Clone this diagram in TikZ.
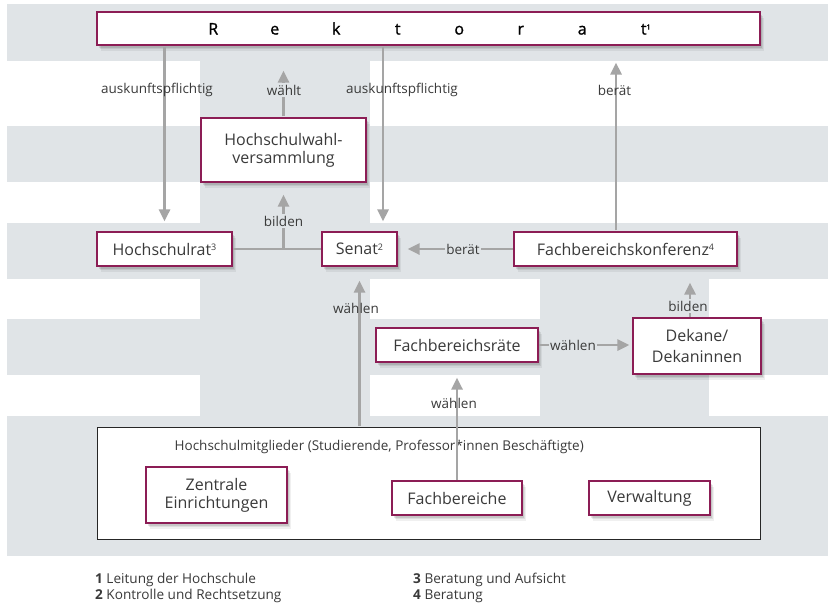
\documentclass[tikz,border=0pt]{standalone}
\usepackage{fontspec}
\setmainfont{Open Sans}
\newfontface\rekfont{Open Sans}[FakeBold=1.2]
\usetikzlibrary{arrows.meta,shadows,calc}
\definecolor{bg}{HTML}{E0E4E7}
\definecolor{frame}{HTML}{8C1D55}
\definecolor{arrowgray}{HTML}{A5A5A5}
\definecolor{txt}{HTML}{3A3A3A}
\newcommand{\supnum}[1]{\raisebox{4.5pt}{\fontsize{9}{10}\selectfont #1}}
\tikzset{
  softshadow/.style={
    general shadow={shadow xshift=3.5pt, shadow yshift=-5.5pt, fill=black, opacity=.06},
    general shadow={shadow xshift=2.5pt, shadow yshift=-4pt, fill=black, opacity=.08},
    general shadow={shadow xshift=1.5pt, shadow yshift=-2.5pt, fill=black, opacity=.10}},
  orgbox/.style={draw=frame, line width=1.1pt, fill=white, inner sep=0pt, align=center,
    text=txt, font=\fontsize{16}{18}\selectfont, softshadow},
  conn/.style={draw=arrowgray, line width=2.6pt},
  arr/.style={conn, -{Triangle[length=12pt,width=11pt]}},
  lbl/.style={text=txt, font=\fontsize{13.5}{16}\selectfont, inner sep=1.5pt},
  lblbg/.style={lbl, fill=bg},
  legend/.style={text=txt, font=\fontsize{13.6}{15}\selectfont, inner sep=0pt, anchor=west},
}
\begin{document}
\begin{tikzpicture}[x=1pt,y=-1pt]
\useasboundingbox (0,0) rectangle (828,608);
% background bands
\fill[white] (0,0) rectangle (828,608);
\fill[bg] (7,4) rectangle (828,61);
\fill[bg] (7,126) rectangle (828,182);
\fill[bg] (7,223) rectangle (828,279);
\fill[bg] (7,319) rectangle (828,375);
\fill[bg] (7,416) rectangle (828,556);
\fill[bg] (200,61) rectangle (370,416);
\fill[bg] (540,279) rectangle (709,416);
\node[draw=black!85, line width=0.8pt, fill=white, minimum width=663pt, minimum height=112pt, inner sep=0pt] (mitgl) at (428.5,483) {};

% boxes
\node[orgbox, minimum width=663pt, minimum height=33pt] (rek) at (428.5,28.5)
  {\color{black}\rekfont\fontsize{16}{18}\selectfont\makebox[61.5pt]{R}\makebox[61.5pt]{e}\makebox[61.5pt]{k}\makebox[61.5pt]{t}\makebox[61.5pt]{o}\makebox[61.5pt]{r}\makebox[61.5pt]{a}\makebox[61.5pt]{t\rlap{\raisebox{5pt}{\fontsize{7}{8}\selectfont 1}}}};
\node[orgbox, minimum width=165pt, minimum height=64pt] (hwv) at (283.5,150) {Hochschulwahl-\\versammlung};
\node[orgbox, minimum width=135pt, minimum height=34pt] (hr) at (164.5,249) {Hochschulrat\supnum{3}};
\node[orgbox, minimum width=75pt, minimum height=34pt] (senat) at (359.5,249) {Senat\supnum{2}};
\node[orgbox, minimum width=223pt, minimum height=34pt] (fbk) at (625.5,249) {Fachbereichskonferenz\supnum{4}};
\node[orgbox, minimum width=162pt, minimum height=34pt] (fbr) at (457,345) {Fachbereichsräte};
\node[orgbox, minimum width=128pt, minimum height=56pt, font=\fontsize{16}{21}\selectfont] (dek) at (697,346) {Dekane/\\Dekaninnen};
\node[orgbox, minimum width=141pt, minimum height=56pt] (zent) at (216.5,495) {Zentrale\\Einrichtungen};
\node[orgbox, minimum width=130pt, minimum height=34pt] (fb) at (457,498) {Fachbereiche};
\node[orgbox, minimum width=121pt, minimum height=34pt] (verw) at (649.5,498) {Verwaltung};
\node[lbl, anchor=west, font=\fontsize{13.5}{15}\selectfont] (mitgltext) at (173,447) {Hochschulmitglieder (Studierende, Professor*innen Beschäftigte)};

% connectors
\coordinate (sx) at ([xshift=23.5pt]senat.north);
\coordinate (fx) at ([xshift=-9.5pt]fbk.north);
\coordinate (dx) at ([xshift=-7pt]dek.north);
\coordinate (bj) at (hr.east -| hwv.south);
\draw[arr, shorten <=1pt, shorten >=10pt] (rek.south -| hr.north) -- (hr.north);
\draw[arr, shorten <=1pt, shorten >=10pt] (rek.south -| sx) -- (sx);
\draw[arr, shorten <=1pt, shorten >=25pt] (hwv.north) -- (hwv.north |- rek.south);
\draw[arr, shorten <=1pt, shorten >=17pt] (fx) -- (fx |- rek.south);
\draw[conn, shorten <=0.6pt, shorten >=0.6pt] (hr.east) -- (senat.west);
\draw[arr, shorten >=12pt] (bj) -- (hwv.south);
\draw[arr, shorten <=0.6pt, shorten >=10pt] (fbk.west) -- (senat.east);
\draw[arr, shorten <=0.5pt, shorten >=14pt] (mitgl.north -| senat.south) -- (senat.south);
\draw[arr, shorten <=0.6pt, shorten >=15pt] (fb.north) -- (fbr.south);
\draw[arr, shorten <=0.6pt, shorten >=3pt] (fbr.east) -- (fbr.east -| dek.west);
\draw[arr, shorten <=0.6pt, shorten >=16pt] (dx) -- (dx |- fbk.south);
% labels
\node[lbl] (l1) at (157,90) {auskunftspflichtig};
\node[lbl] (l2) at (402,90) {auskunftspflichtig};
\node[lblbg] (l3) at (284,90) {wählt};
\node[lbl] (l4) at (614.5,90) {berät};
\node[lblbg] (l5) at (283.5,221) {bilden};
\node[lblbg] (l6) at (463,249) {berät};
\node[lbl] (l7) at (356,308) {wählen};
\node[lbl] (l8) at (454,403) {wählen};
\node[lblbg] (l9) at (573,345) {wählen};
\node[lblbg] (l10) at (688,306) {bilden};

% legend
\node[legend] (n1) at (95,580) {\textbf{1} Leitung der Hochschule};
\node[legend] (n2) at (95,596) {\textbf{2} Kontrolle und Rechtsetzung};
\node[legend] (n3) at (413,580) {\textbf{3} Beratung und Aufsicht};
\node[legend] (n4) at (413,596) {\textbf{4} Beratung};
\end{tikzpicture}
\end{document}
